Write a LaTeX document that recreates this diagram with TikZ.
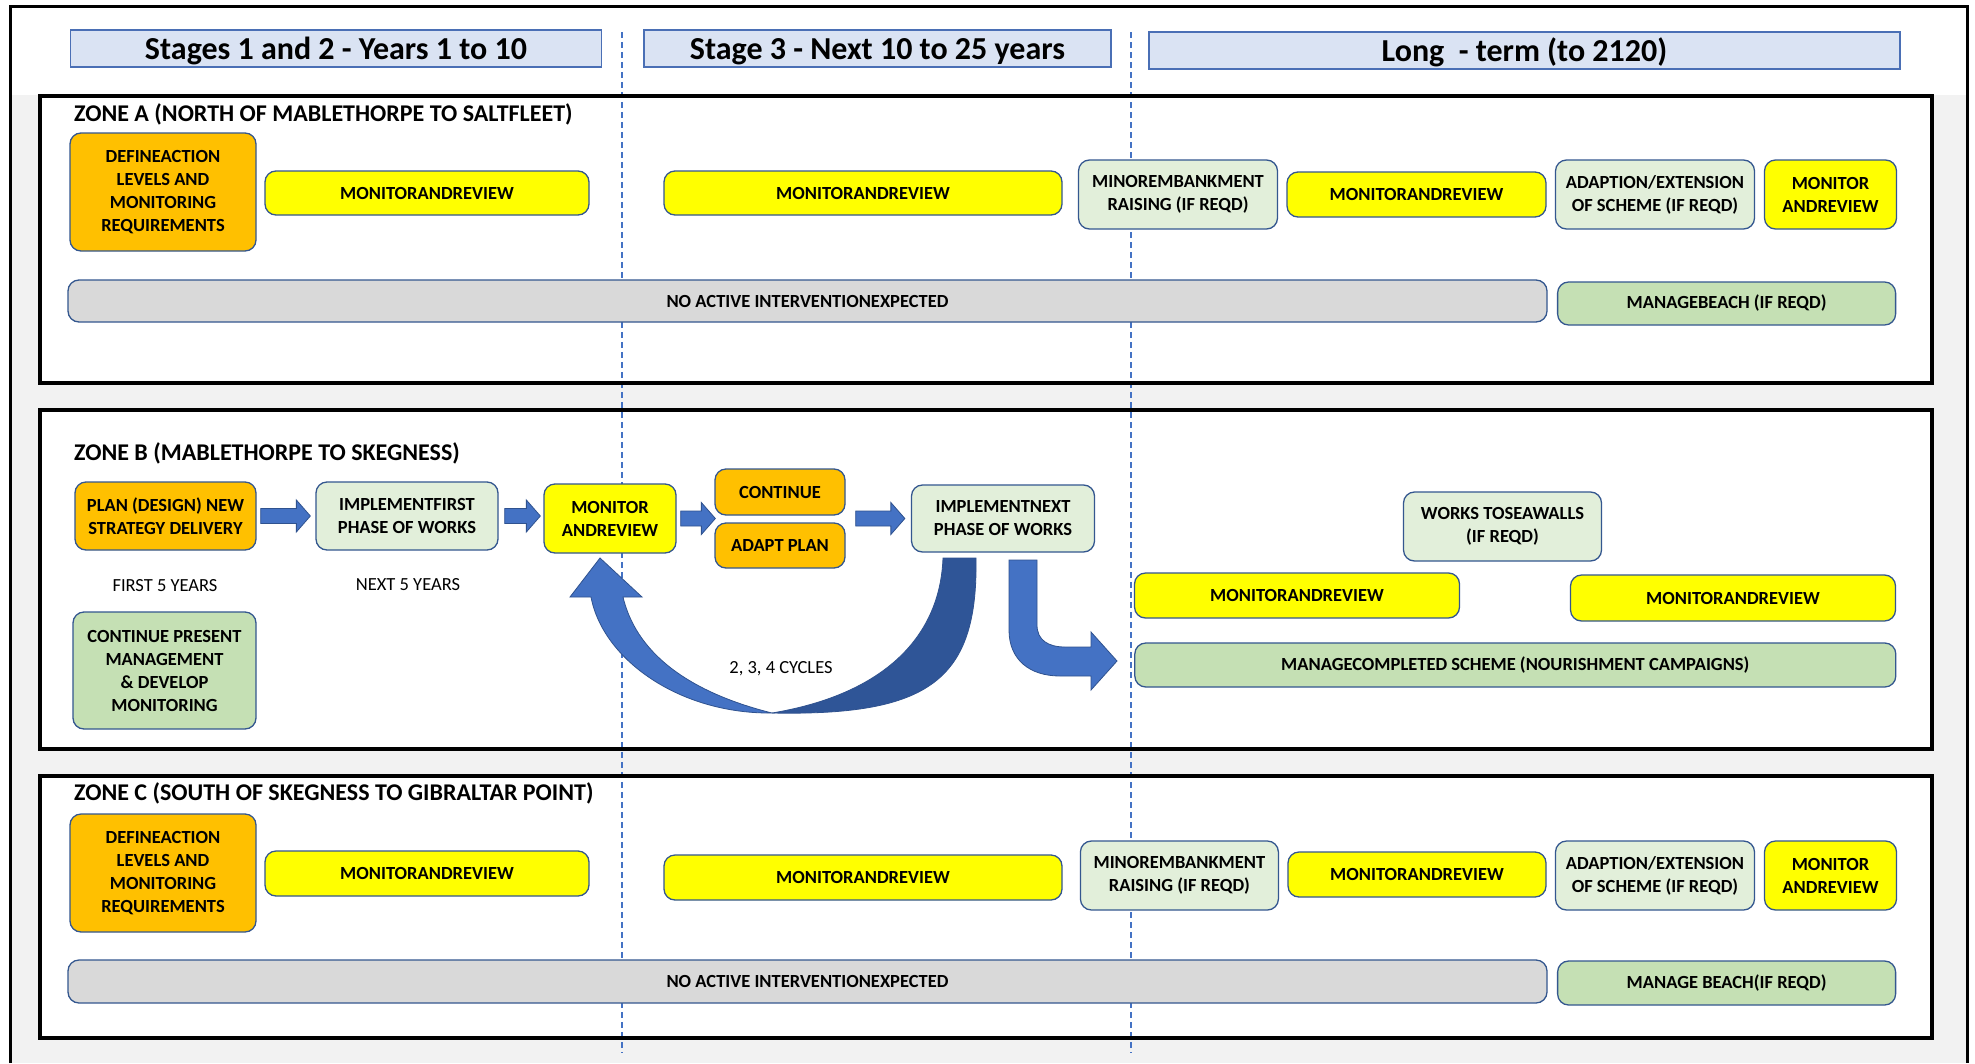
\documentclass[tikz,border=0pt]{standalone}
\usepackage{fontspec}
\setmainfont{Carlito}
\usetikzlibrary{calc,arrows.meta}
\definecolor{cyel}{HTML}{FFFF00}
\definecolor{corg}{HTML}{FFC000}
\definecolor{clgr}{HTML}{E2EFDA}
\definecolor{cgrn}{HTML}{C5E0B4}
\definecolor{cgry}{HTML}{D9D9D9}
\definecolor{cbord}{HTML}{34578F}
\definecolor{chead}{HTML}{DAE3F3}
\definecolor{cheadb}{HTML}{4A6FB5}
\definecolor{cbg}{HTML}{F2F2F2}
\definecolor{cblue}{HTML}{4472C4}
\definecolor{cblueb}{HTML}{2F528F}
\definecolor{cdark}{HTML}{2F5597}
\newcommand\boxfnt{\bfseries\fontsize{18.5}{23}\selectfont}
\newcommand\regfnt{\fontsize{18.5}{23}\selectfont}
\newcommand\zonefnt{\bfseries\fontsize{24}{28}\selectfont}
\newcommand\headfnt{\bfseries\fontsize{32}{38}\selectfont}
\newcommand\blockarr[2]{\filldraw[barr] ($(#1)+(0,-7.5)$) -- ($(#2)+(-14,-7.5)$) -- ($(#2)+(-14,-16)$) -- (#2) -- ($(#2)+(-14,16)$) -- ($(#2)+(-14,7.5)$) -- ($(#1)+(0,7.5)$) -- cycle;}
\tikzset{
  bx/.style={draw=cbord, line width=1.3pt, rounded corners=11pt, align=center, inner sep=0pt, font=\boxfnt, text=black},
  yel/.style={bx, fill=cyel},
  org/.style={bx, fill=corg},
  lgr/.style={bx, fill=clgr},
  grn/.style={bx, fill=cgrn},
  gry/.style={bx, fill=cgry},
  hdr/.style={draw=cheadb, line width=1.5pt, fill=chead, inner sep=0pt, font=\headfnt, text height=25pt, text depth=3pt},
  zonefill/.style={fill=white, draw=none, inner sep=0pt},
  zoneline/.style={draw=black, line width=3.5pt},
  ztitle/.style={anchor=west, inner sep=0pt, font=\zonefnt},
  lbl/.style={inner sep=0pt, font=\regfnt},
  dashline/.style={draw=cblue, line width=1.3pt, dash pattern=on 6pt off 4pt},
  barr/.style={fill=cblue, draw=cblueb, line width=0.8pt},
}
\begin{document}
\begin{tikzpicture}[x=1pt,y=-1pt]
\useasboundingbox (0,0) rectangle (1975,1063);
\fill[white] (0,0) rectangle (1975,1063);
\fill[cbg] (10,95) rectangle (1967,1063);
\draw[line width=3pt] (10,1063) -- (10,6) -- (1967,6) -- (1967,1063);

% headers
\node[hdr, minimum width=531, minimum height=37] (h1) at (336,48.5) {Stages 1 and 2 - Years 1 to 10};
\node[hdr, minimum width=467, minimum height=37] (h2) at (877.5,48.5) {Stage 3 - Next 10 to 25 years};
\node[hdr, minimum width=751, minimum height=37] (h3) at (1524.5,50.5) {Long\ \ - term (to 2120)};

% zones
\node[zonefill, minimum width=1892, minimum height=287] (zA) at (986,239.5) {};
\node[zonefill, minimum width=1892, minimum height=339] (zB) at (986,579.5) {};
\node[zonefill, minimum width=1892, minimum height=262] (zC) at (986,907) {};

% stage dividers
\coordinate (d1t) at (622,32); \coordinate (d1b) at (622,1053);
\coordinate (d2t) at (1131,32); \coordinate (d2b) at (1131,1053);
\draw[dashline] (d1t) -- (d1b);
\draw[dashline] (d2t) -- (d2b);

\draw[zoneline] (zA.north west) rectangle (zA.south east);
\draw[zoneline] (zB.north west) rectangle (zB.south east);
\draw[zoneline] (zC.north west) rectangle (zC.south east);

\node[ztitle] (tA) at (74,114) {ZONE A (NORTH OF MABLETHORPE TO SALTFLEET)};
\node[ztitle] (tB) at (74,453) {ZONE B (MABLETHORPE TO SKEGNESS)};
\node[ztitle] (tC) at (74,793) {ZONE C (SOUTH OF SKEGNESS TO GIBRALTAR POINT)};

% Zone A
\node[org, minimum width=186, minimum height=118] (defA) at (163,192) {DEFINEACTION\\LEVELS AND\\MONITORING\\REQUIREMENTS};
\node[yel, minimum width=324, minimum height=44] (mA1) at (427,193) {MONITORANDREVIEW};
\node[yel, minimum width=398, minimum height=44] (mA2) at (863,193) {MONITORANDREVIEW};
\node[lgr, minimum width=199, minimum height=69] (minA) at (1178,194.5) {MINOREMBANKMENT\\RAISING (IF REQD)};
\node[yel, minimum width=259, minimum height=45] (mA3) at (1416.5,194.5) {MONITORANDREVIEW};
\node[lgr, minimum width=199, minimum height=69] (adA) at (1655,194.5) {ADAPTION/EXTENSION\\OF SCHEME (IF REQD)};
\node[yel, minimum width=132, minimum height=69] (mA4) at (1830.5,194.5) {MONITOR\\ANDREVIEW};
\node[gry, minimum width=1479, minimum height=42] (noA) at (807.5,301) {NO ACTIVE INTERVENTIONEXPECTED};
\node[grn, minimum width=338, minimum height=43] (mbA) at (1726.6,303.5) {MANAGEBEACH (IF REQD)};

% Zone B
\node[org, minimum width=181, minimum height=68] (plan) at (165.5,516) {PLAN (DESIGN) NEW\\STRATEGY DELIVERY};
\node[lgr, minimum width=182, minimum height=68] (impl1) at (407,516) {IMPLEMENTFIRST\\PHASE OF WORKS};
\node[yel, minimum width=132, minimum height=69] (monB) at (610,518.5) {MONITOR\\ANDREVIEW};
\node[org, minimum width=130, minimum height=46] (cont) at (780,492) {CONTINUE};
\node[org, minimum width=130, minimum height=45] (adapt) at (780,545.5) {ADAPT PLAN};
\node[lgr, minimum width=183, minimum height=67] (impl2) at (1003,518.5) {IMPLEMENTNEXT\\PHASE OF WORKS};
\node[lbl] (first5) at (165,586) {FIRST 5 YEARS};
\node[lbl] (next5) at (408,585) {NEXT 5 YEARS};
\node[grn, minimum width=183, minimum height=117] (contp) at (164.5,670.5) {CONTINUE PRESENT\\MANAGEMENT\\\&\ DEVELOP\\MONITORING};
\node[lbl] (cyc) at (781,669) {2, 3, 4 CYCLES};
\node[lgr, minimum width=198, minimum height=69] (works) at (1502.5,526.5) {WORKS TOSEAWALLS\\(IF REQD)};
\node[yel, minimum width=325, minimum height=45] (mB1) at (1297,595.5) {MONITORANDREVIEW};
\node[yel, minimum width=325, minimum height=46] (mB2) at (1733,598) {MONITORANDREVIEW};
\node[grn, minimum width=761, minimum height=44] (mcs) at (1515.3,665) {MANAGECOMPLETED SCHEME (NOURISHMENT CAMPAIGNS)};

% block arrows
\coordinate (a1s) at ($(plan.east)+(4,0)$);
\coordinate (a1e) at ($(impl1.west |- plan.east)+(-5,0)$);
\coordinate (a2s) at ($(impl1.east)+(6,0)$);
\coordinate (a2e) at ($(monB.west |- impl1.east)+(-3,0)$);
\coordinate (a3s) at ($(monB.east)+(4,0)$);
\coordinate (a3e) at ($(cont.south west |- monB.east)+(1,0)$);
\coordinate (a4s) at ($(cont.south east |- impl2.west)+(10,0)$);
\coordinate (a4e) at ($(impl2.west)+(-6,0)$);
\blockarr{a1s}{a1e}
\blockarr{a2s}{a2e}
\blockarr{a3s}{a3e}
\blockarr{a4s}{a4e}

% curved return arrow
\filldraw[fill=cblue, draw=cblueb, line width=0.8pt] (591,597) .. controls (603,660) and (680,714) .. (772,713) .. controls (700,695) and (638,660) .. (623,597) -- (642,597) -- (600,558) -- (570,597) -- cycle;
\filldraw[fill=cdark, draw=cblueb, line width=0.8pt] (943,558) .. controls (940,640) and (880,695) .. (772,713) .. controls (930,716) and (978,680) .. (976,558) -- cycle;

% bent arrow
\filldraw[barr] (1009,560) -- (1009,630) .. controls (1009,660) and (1030,676) .. (1060,676) -- (1091,676) -- (1091,690) -- (1117,661) -- (1091,632) -- (1091,647) -- (1065,647) .. controls (1048,647) and (1037,640) .. (1037,625) -- (1037,560) -- cycle;

% Zone C
\node[org, minimum width=186, minimum height=118] (defC) at (163,873) {DEFINEACTION\\LEVELS AND\\MONITORING\\REQUIREMENTS};
\node[yel, minimum width=324, minimum height=45] (mC1) at (427,873.5) {MONITORANDREVIEW};
\node[yel, minimum width=398, minimum height=45] (mC2) at (863,877.5) {MONITORANDREVIEW};
\node[lgr, minimum width=198, minimum height=69] (minC) at (1179.4,875.5) {MINOREMBANKMENT\\RAISING (IF REQD)};
\node[yel, minimum width=258, minimum height=45] (mC3) at (1417,874.5) {MONITORANDREVIEW};
\node[lgr, minimum width=199, minimum height=69] (adC) at (1655,875.5) {ADAPTION/EXTENSION\\OF SCHEME (IF REQD)};
\node[yel, minimum width=132, minimum height=69] (mC4) at (1830.5,875.5) {MONITOR\\ANDREVIEW};
\node[gry, minimum width=1479, minimum height=43] (noC) at (807.5,981.5) {NO ACTIVE INTERVENTIONEXPECTED};
\node[grn, minimum width=338, minimum height=44] (mbC) at (1726.6,983) {MANAGE BEACH(IF REQD)};
\end{tikzpicture}
\end{document}
